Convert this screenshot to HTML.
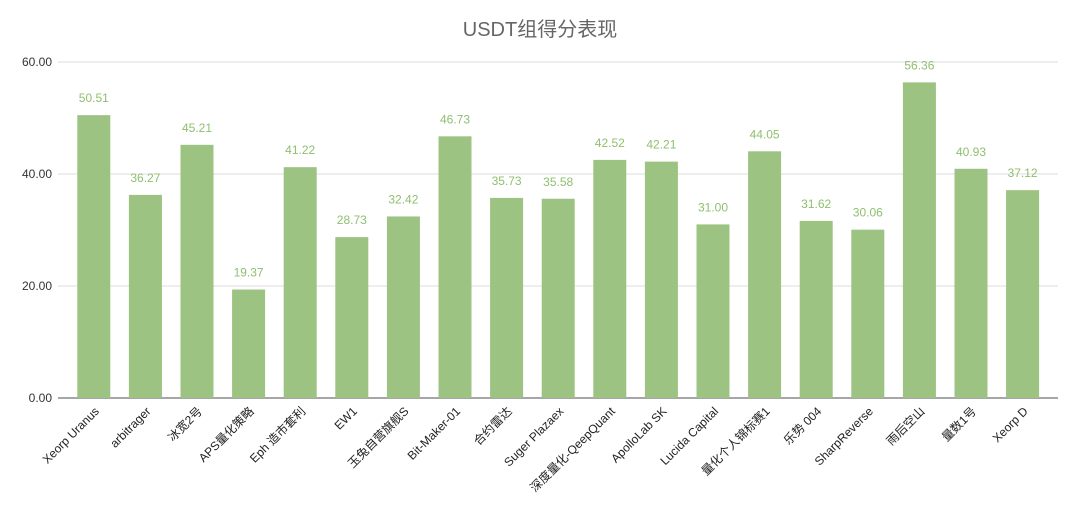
<!DOCTYPE html>
<html><head><meta charset="utf-8"><style>
body{margin:0;background:#fff;}
svg{display:block;font-family:"Liberation Sans","Noto Sans CJK SC",sans-serif;}
</style></head><body>
<svg id="chart" width="1080" height="517">
<text x="540" y="36" text-anchor="middle" font-size="20" fill="#666">USDT组得分表现</text>
<g id="grid"></g><g id="bars"></g><g id="labels"></g>
</svg>
<script>
const categories=["Xeorp Uranus","arbitrager","冰宽2号","APS量化策略","Eph 造市套利","EW1","玉兔自营旗舰S","Bit-Maker-01","合约雷达","Suger Plazaex","深度量化-QeepQuant","ApolloLab SK","Lucida Capital","量化个人锦标赛1","乐势 004","SharpReverse","雨后空山","量数1号","Xeorp D"];
const values=[50.51,36.27,45.21,19.37,41.22,28.73,32.42,46.73,35.73,35.58,42.52,42.21,31.00,44.05,31.62,30.06,56.36,40.93,37.12];
const ticks=[0,20,40,60];
const NS="http://www.w3.org/2000/svg";
const y0=398,yTop=62,vmax=60,x0=68,band=51.6,bw=33;
const y=v=>y0-(v/vmax)*(y0-yTop);
const xc=i=>x0+band*(i+0.5);
function mk(t,a,p){const e=document.createElementNS(NS,t);for(const k in a)e.setAttribute(k,a[k]);p.appendChild(e);return e;}
const grid=document.getElementById('grid'),bars=document.getElementById('bars'),labels=document.getElementById('labels');
ticks.forEach(t=>{
 const l=mk('line',{x1:58,x2:1058,y1:y(t),y2:y(t),stroke:t===0?'#888':'#ddd','stroke-width':t===0?1.5:1},grid);
 
 
 const tx=mk('text',{x:52,y:y(t)+4,'text-anchor':'end','font-size':12,fill:'#333'},grid);
 tx.textContent=t.toFixed(2);
 
 
});
values.forEach((v,i)=>{
 const r=mk('rect',{x:xc(i)-bw/2,y:y(v),width:bw,height:y0-y(v),fill:'#9dc383'},bars);
 
 
 const vt=mk('text',{x:xc(i),y:y(v)-13,'text-anchor':'middle','font-size':12,fill:'#8fbf6e'},labels);
 vt.textContent=v.toFixed(2);
 
 
 const ct=mk('text',{x:xc(i)+6,y:412,'text-anchor':'end','font-size':12,fill:'#222',transform:`rotate(-45 ${xc(i)+6} 412)`},labels);
 ct.textContent=categories[i];
 
 
});
</script>
</body></html>
